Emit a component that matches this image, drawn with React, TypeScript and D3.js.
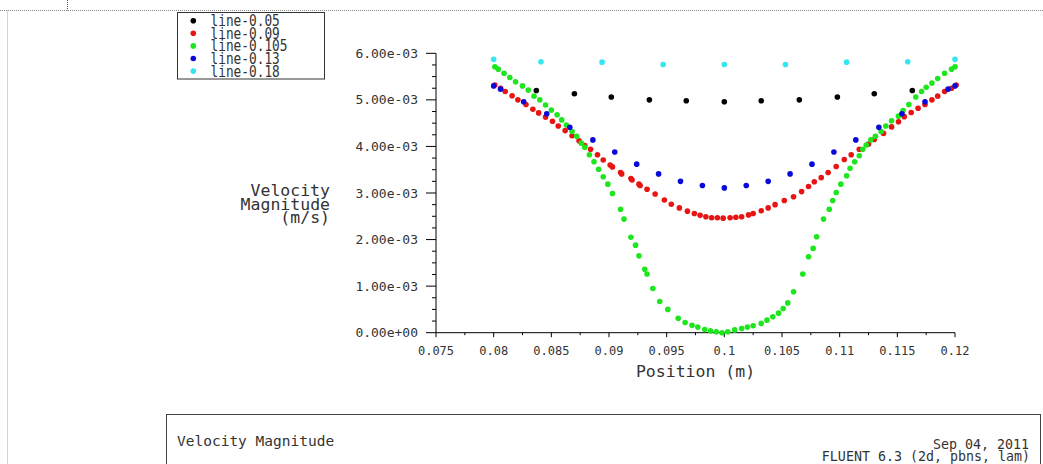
import { useEffect, useRef } from "react";
import * as d3 from "d3";

// line-0.05
const posBlack = [0.0837, 0.087, 0.0902, 0.0935, 0.0967, 0.1, 0.1032, 0.1065, 0.1098, 0.113, 0.1163];
const velBlack = [5.2, 5.13, 5.06, 5.0, 4.98, 4.96, 4.98, 5.0, 5.06, 5.13, 5.2];

// line-0.09
const posRed = [
    0.0801, 0.0806, 0.081, 0.0816, 0.0821, 0.0828, 0.0834, 0.0839, 0.0845, 0.0851, 0.0856, 0.0862,
    0.0868, 0.0874, 0.0879, 0.0884, 0.089, 0.0895, 0.0901, 0.0903, 0.091, 0.0911, 0.0919, 0.092,
    0.0926, 0.0927, 0.0933, 0.094, 0.0948, 0.0954, 0.0961, 0.0968, 0.0974, 0.0979, 0.0984, 0.0989,
    0.0994, 0.0999, 0.1005, 0.101, 0.1015, 0.1021, 0.1025, 0.1032, 0.1038, 0.1044, 0.1052, 0.106,
    0.1067, 0.1073, 0.1078, 0.1084, 0.109, 0.1097, 0.1104, 0.111, 0.1117, 0.1125, 0.113, 0.1138,
    0.1145, 0.1151, 0.1156, 0.1162, 0.1168, 0.1174, 0.118, 0.1185, 0.1191, 0.1197, 0.1201,
];
const velRed = [
    5.32, 5.25, 5.18, 5.09, 5.0, 4.9, 4.8, 4.72, 4.63, 4.54, 4.44, 4.34,
    4.23, 4.12, 4.02, 3.94, 3.82, 3.71, 3.6, 3.56, 3.44, 3.41, 3.31, 3.28,
    3.19, 3.16, 3.08, 2.98, 2.85, 2.76, 2.68, 2.61, 2.56, 2.52, 2.49, 2.47,
    2.47, 2.46, 2.47, 2.48, 2.49, 2.53, 2.56, 2.62, 2.68, 2.75, 2.84, 2.92,
    3.03, 3.14, 3.24, 3.33, 3.44, 3.57, 3.72, 3.82, 3.94, 4.05, 4.15, 4.28,
    4.42, 4.53, 4.64, 4.73, 4.82, 4.9, 5.0, 5.08, 5.18, 5.25, 5.32,
];

// line-0.105
const posGreen = [
    0.0801, 0.0804, 0.0809, 0.0814, 0.0819, 0.0825, 0.083, 0.0835, 0.084, 0.0845, 0.085, 0.0855,
    0.0859, 0.0863, 0.0868, 0.0872, 0.0876, 0.0879, 0.0883, 0.0887, 0.0891, 0.0895, 0.0899, 0.0903,
    0.091, 0.0913, 0.0919, 0.0923, 0.0926, 0.0931, 0.0933, 0.0938, 0.0944, 0.0951, 0.096, 0.0966,
    0.0972, 0.0977, 0.0983, 0.0988, 0.0993, 0.0998, 0.1003, 0.1009, 0.1015, 0.102, 0.1025, 0.1032,
    0.1037, 0.1042, 0.1047, 0.1051, 0.1055, 0.106, 0.1068, 0.1073, 0.1077, 0.108, 0.1086, 0.1091,
    0.1094, 0.1097, 0.1101, 0.1106, 0.1109, 0.1113, 0.1117, 0.112, 0.1123, 0.1127, 0.1131, 0.1136,
    0.114, 0.1145, 0.1151, 0.1155, 0.116, 0.1166, 0.1171, 0.1175, 0.118, 0.1185, 0.1191, 0.1197, 0.12,
];
const velGreen = [
    5.71, 5.66, 5.57, 5.48, 5.39, 5.3, 5.21, 5.08, 5.0, 4.89, 4.78, 4.68,
    4.57, 4.46, 4.32, 4.22, 4.07, 3.98, 3.82, 3.67, 3.51, 3.35, 3.19, 2.99,
    2.65, 2.44, 2.05, 1.88, 1.65, 1.36, 1.26, 0.95, 0.67, 0.5, 0.31, 0.22,
    0.16, 0.12, 0.07, 0.04, 0.02, 0.0, 0.02, 0.06, 0.09, 0.12, 0.15, 0.2,
    0.27, 0.34, 0.42, 0.52, 0.64, 0.88, 1.26, 1.63, 1.81, 2.06, 2.44, 2.65,
    2.84, 3.01, 3.19, 3.37, 3.53, 3.67, 3.8, 3.94, 4.03, 4.14, 4.22, 4.32,
    4.44, 4.55, 4.65, 4.77, 4.9, 5.06, 5.18, 5.27, 5.36, 5.46, 5.57, 5.66, 5.71,
];

// line-0.13
const posBlue = [
    0.08, 0.0806, 0.0826, 0.0846, 0.0866, 0.0886, 0.0905, 0.0924, 0.0943, 0.0962, 0.0981, 0.1,
    0.1019, 0.1038, 0.1057, 0.1076, 0.1095, 0.1114, 0.1134, 0.1154, 0.1174, 0.1194, 0.12,
];
const velBlue = [
    5.3, 5.23, 4.96, 4.7, 4.41, 4.14, 3.88, 3.62, 3.41, 3.25, 3.16, 3.11,
    3.16, 3.25, 3.41, 3.62, 3.88, 4.14, 4.41, 4.7, 4.96, 5.23, 5.3,
];

// line-0.18
const posCyan = [0.08, 0.0841, 0.0894, 0.0947, 0.1, 0.1053, 0.1106, 0.1159, 0.12];
const velCyan = [5.87, 5.82, 5.81, 5.76, 5.76, 5.76, 5.81, 5.82, 5.87];

const seriesNames = ["line-0.05", "line-0.09", "line-0.105", "line-0.13", "line-0.18"];
const seriesColors = ["#000000", "#e81414", "#1ee61e", "#0a0ad8", "#33e6f0"];
const seriesPos = [posBlack, posRed, posGreen, posBlue, posCyan];
const seriesVel = [velBlack, velRed, velGreen, velBlue, velCyan]; // in 1e-3 m/s

const xTicks = [0.075, 0.08, 0.085, 0.09, 0.095, 0.1, 0.105, 0.11, 0.115, 0.12];
const yTicks = [0, 0.001, 0.002, 0.003, 0.004, 0.005, 0.006];

const MONO = "'DejaVu Sans Mono', monospace";
const INK = "#333";

const fmtExp = (d: number) => {
    const s = d3.format(".2e")(d); // 6.00e-3
    const [m, e] = s.split("e");
    const sign = e[0] === "-" ? "-" : "+";
    const digits = e.replace(/[+-]/, "").padStart(2, "0");
    return `${m}e${sign}${digits}`;
};

const App = () => {
    const svgRef = useRef<SVGSVGElement>(null);

    useEffect(() => {
        const svg = d3.select(svgRef.current);
        svg.selectAll("*").remove();

        const x = d3.scaleLinear().domain([0.075, 0.12]).range([436, 955]);
        const y = d3.scaleLinear().domain([0, 0.006]).range([332.7, 53.3]);

        // frame: dotted borders and footer box
        svg.append("line")
            .attr("x1", 0).attr("x2", 1043).attr("y1", 10.5).attr("y2", 10.5)
            .attr("stroke", "#888").attr("stroke-dasharray", "1,1");
        svg.append("line")
            .attr("x1", 67.5).attr("x2", 67.5).attr("y1", 0).attr("y2", 10.5)
            .attr("stroke", "#555").attr("stroke-dasharray", "1,1");
        svg.append("line")
            .attr("x1", 7.5).attr("x2", 7.5).attr("y1", 10.5).attr("y2", 464)
            .attr("stroke", "#aaa").attr("stroke-dasharray", "1,1");
        svg.append("rect")
            .attr("x", 166.5).attr("y", 414.5).attr("width", 874).attr("height", 60)
            .attr("fill", "none").attr("stroke", "#444");

        svg.append("text")
            .attr("x", 177).attr("y", 446)
            .style("font-family", MONO).style("font-size", "14.5px").attr("fill", INK)
            .text("Velocity Magnitude");
        svg.append("text")
            .attr("x", 1029).attr("y", 449).attr("text-anchor", "end")
            .style("font-family", MONO).style("font-size", "13.3px").attr("fill", INK)
            .text("Sep 04, 2011");
        svg.append("text")
            .attr("x", 1030).attr("y", 461).attr("text-anchor", "end")
            .style("font-family", MONO).style("font-size", "13.3px").attr("fill", INK)
            .text("FLUENT 6.3 (2d, pbns, lam)");

        // axes
        const axisG = svg.append("g").attr("stroke", "#000").attr("stroke-width", 1);
        axisG.append("line")
            .attr("x1", x(0.075)).attr("x2", x(0.075)).attr("y1", y(0.006)).attr("y2", y(0));
        axisG.append("line")
            .attr("x1", x(0.075)).attr("x2", x(0.12)).attr("y1", y(0)).attr("y2", y(0));

        const yMinor = d3.range(0, 24).map((i) => i * 0.00025).filter((_, i) => i % 4 !== 0);
        axisG.selectAll(".ymaj").data(yTicks).enter().append("line")
            .attr("x1", x(0.075) - 10).attr("x2", x(0.075))
            .attr("y1", (d) => y(d)).attr("y2", (d) => y(d));
        axisG.selectAll(".ymin").data(yMinor).enter().append("line")
            .attr("x1", x(0.075) - 4).attr("x2", x(0.075))
            .attr("y1", (d) => y(d)).attr("y2", (d) => y(d));

        const xMinor = xTicks.slice(0, -1).map((d) => d + 0.0025);
        axisG.selectAll(".xmaj").data(xTicks).enter().append("line")
            .attr("x1", (d) => x(d)).attr("x2", (d) => x(d))
            .attr("y1", y(0)).attr("y2", y(0) + 4.5);
        axisG.selectAll(".xmin").data(xMinor).enter().append("line")
            .attr("x1", (d) => x(d)).attr("x2", (d) => x(d))
            .attr("y1", y(0)).attr("y2", y(0) + 2.5);

        svg.selectAll(".ylab").data(yTicks).enter().append("text")
            .attr("x", 418).attr("y", (d) => y(d) + 4.5)
            .attr("text-anchor", "end")
            .style("font-family", MONO).style("font-size", "13px").attr("fill", INK)
            .text((d) => fmtExp(d));

        svg.selectAll(".xlab").data(xTicks).enter().append("text")
            .attr("x", (d) => x(d)).attr("y", 355)
            .attr("text-anchor", "middle")
            .style("font-family", MONO).style("font-size", "12px").attr("fill", INK)
            .text((d) => String(d));

        svg.append("text")
            .attr("x", (x(0.075) + x(0.12)) / 2).attr("y", 377)
            .attr("text-anchor", "middle")
            .style("font-family", MONO).style("font-size", "16.5px").attr("fill", INK)
            .text("Position (m)");

        ["Velocity", "Magnitude", "(m/s)"].forEach((t, i) => {
            svg.append("text")
                .attr("x", 330).attr("y", 196 + i * 13.5)
                .attr("text-anchor", "end")
                .style("font-family", MONO).style("font-size", "16.5px").attr("fill", INK)
                .text(t);
        });

        // data points, drawn in legend order
        seriesNames.forEach((name, i) => {
            const pts = seriesPos[i].map((p, j) => ({ p, v: seriesVel[i][j] * 1e-3 }));
            svg.append("g").attr("class", name)
                .selectAll("circle").data(pts).enter().append("circle")
                .attr("cx", (d) => x(d.p))
                .attr("cy", (d) => y(d.v))
                .attr("r", 2.8)
                .attr("fill", seriesColors[i]);
        });

        // legend
        const lg = svg.append("g");
        lg.append("rect")
            .attr("x", 177.5).attr("y", 12.5).attr("width", 147).attr("height", 66.5)
            .attr("fill", "#fff").attr("stroke", "#333");
        seriesNames.forEach((name, i) => {
            const cy = 20.7 + i * 12.6;
            lg.append("circle").attr("cx", 193.3).attr("cy", cy).attr("r", 2.8).attr("fill", seriesColors[i]);
            lg.append("text")
                .attr("transform", `translate(210.5,${cy + 5.5}) scale(1,1.18)`)
                .style("font-family", MONO).style("font-size", "12.8px").attr("fill", INK)
                .text(name);
        });
    }, []);

    return (
        <svg
            ref={svgRef}
            width={1043}
            height={464}
            style={{ position: "absolute", left: 0, top: 0, background: "#fff" }}
        />
    );
};

export default App;
